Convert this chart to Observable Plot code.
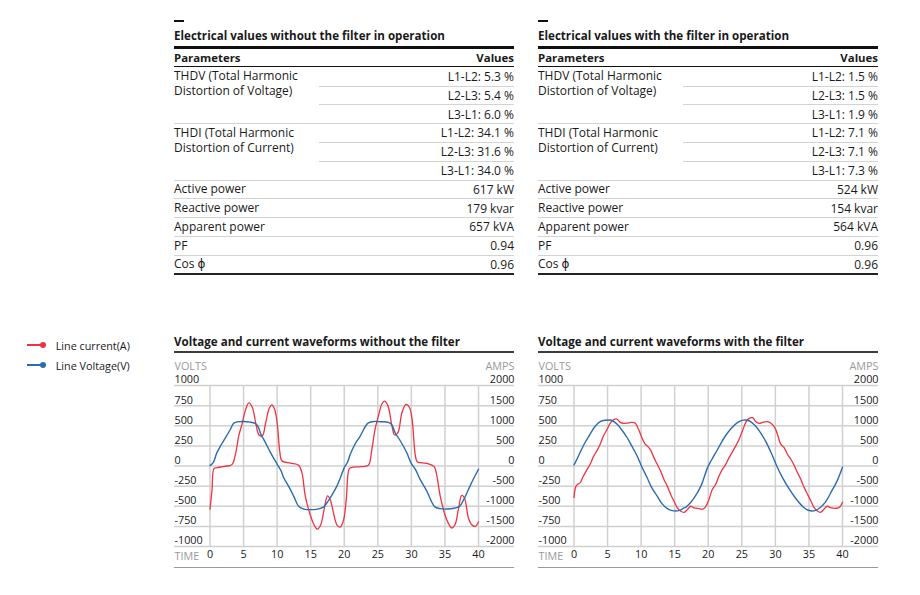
<!DOCTYPE html>
<html><head><meta charset="utf-8">
<script src="https://cdn.jsdelivr.net/npm/d3@7"></script>
<script src="https://cdn.jsdelivr.net/npm/@observablehq/plot@0.6"></script>
<style>
html,body{margin:0;padding:0;background:#fff;}
#page{position:relative;width:920px;height:595px;overflow:hidden;font-family:'Open Sans','DejaVu Sans',sans-serif;color:#1a1a1a;}
.t{position:absolute;white-space:pre;line-height:14px;}
.r{position:absolute;}
</style></head><body><div id="page"></div>
<script>
// ---------- table data ----------
const tableTitles = ["Electrical values without the filter in operation", "Electrical values with the filter in operation"];
const headers = ["Parameters", "Values"];
const phasePairs = ["L1-L2", "L2-L3", "L3-L1"];
const thdvLabel = ["THDV (Total Harmonic", "Distortion of Voltage)"];
const thdiLabel = ["THDI (Total Harmonic", "Distortion of Current)"];
const thdvWithout = [5.3, 5.4, 6.0];
const thdvWith = [1.5, 1.5, 1.9];
const thdiWithout = [34.1, 31.6, 34.0];
const thdiWith = [7.1, 7.1, 7.3];
const powerLabels = ["Active power", "Reactive power", "Apparent power", "PF", "Cos \u03D5"];
const powerWithout = ["617 kW", "179 kvar", "657 kVA", "0.94", "0.96"];
const powerWith = ["524 kW", "154 kvar", "564 kVA", "0.96", "0.96"];

// ---------- chart data ----------
const chartTitles = ["Voltage and current waveforms without the filter", "Voltage and current waveforms with the filter"];
const legendLabels = ["Line current(A)", "Line Voltage(V)"];
const voltTicks = [-1000, -750, -500, -250, 0, 250, 500, 750, 1000];
const ampTicks = [-2000, -1500, -1000, -500, 0, 500, 1000, 1500, 2000];
const timeTicks = [0, 5, 10, 15, 20, 25, 30, 35, 40];

// [time, volts]
const voltageWithout = [[0,5],[0.5,45],[1.0,160],[1.6,255],[2.3,350],[3.0,450],[3.5,528],[4.0,548],[5.0,553],[6.0,545],[6.7,530],[7.1,500],[7.6,390],[8.0,330],[9.0,170],[9.8,50],[10.2,-5],[10.6,-60],[11.0,-150],[11.7,-250],[12.5,-380],[13.2,-500],[14.0,-535],[15.0,-542],[16.0,-535],[16.9,-510],[17.4,-460],[18.2,-355],[18.9,-250],[19.5,-130],[20.0,-20],[20.5,50],[20.9,146],[21.6,270],[22.4,375],[23.2,500],[23.6,535],[24.4,553],[25.4,550],[26.6,542],[27.1,510],[27.6,410],[28.3,320],[29.3,167],[30.0,30],[30.6,-42],[31.3,-167],[32.3,-312],[33.5,-508],[34.3,-530],[35.3,-535],[36.5,-522],[37.2,-500],[37.8,-417],[38.5,-292],[39.2,-167],[40,-40]];
// [time, amps]
const currentWithout = [[0,-1070],[0.3,-600],[0.6,-60],[1.0,-45],[1.6,-25],[2.6,0],[3.3,40],[3.8,300],[4.3,760],[4.8,1060],[5.3,1400],[5.8,1570],[6.3,1460],[6.8,1080],[7.3,770],[7.8,750],[8.3,1080],[8.8,1420],[9.2,1520],[9.6,1420],[10.0,1080],[10.4,350],[10.7,130],[12.0,70],[13.2,20],[13.7,-170],[14.2,-750],[15.0,-1250],[15.5,-1460],[16.0,-1570],[16.5,-1460],[17.0,-1080],[17.5,-740],[17.9,-830],[18.4,-1170],[18.9,-1460],[19.4,-1520],[19.9,-1340],[20.3,-830],[20.7,-80],[21.0,-40],[22.4,-17],[23.6,20],[24.1,400],[24.6,920],[25.1,1250],[25.6,1540],[26.0,1610],[26.5,1500],[27.1,1000],[27.5,770],[28.0,830],[28.6,1330],[29.2,1530],[29.7,1460],[30.1,1170],[30.6,250],[30.9,100],[32.3,67],[33.4,-17],[33.8,-250],[34.3,-750],[35.0,-1210],[35.5,-1420],[36.0,-1540],[36.5,-1460],[37.0,-1080],[37.5,-730],[37.9,-790],[38.5,-1290],[39.0,-1460],[39.5,-1500],[40.0,-1390]];
const voltageWith = [[0,15],[0.3,60],[0.9,167],[1.65,292],[2.4,396],[3.1,487],[3.9,550],[4.6,568],[5.6,568],[6.4,521],[7.1,450],[7.9,354],[8.6,250],[9.4,125],[10.1,-10],[10.9,-146],[11.6,-271],[12.4,-375],[13.1,-467],[13.9,-529],[14.6,-554],[15.6,-554],[16.4,-521],[16.7,-510],[17.1,-479],[17.9,-396],[18.9,-250],[19.9,-20],[20.4,62],[21.4,208],[22.4,354],[23.4,467],[24.4,542],[25.2,570],[26.1,562],[26.9,508],[27.6,437],[28.6,300],[29.6,120],[30.2,0],[31.1,-150],[32.1,-290],[33.1,-410],[34.1,-505],[34.9,-550],[35.9,-554],[36.6,-521],[37.4,-455],[38.4,-310],[39.2,-185],[40,-15]];
const currentWith = [[0,-780],[0.25,-520],[0.5,-460],[0.9,-420],[1.4,-250],[1.9,-100],[2.4,42],[2.9,233],[3.4,375],[3.9,542],[4.4,750],[4.9,900],[5.4,1067],[5.9,1150],[6.4,1167],[6.9,1083],[7.4,1058],[7.9,1067],[8.6,1083],[9.1,1067],[9.6,917],[10.1,708],[10.6,542],[10.9,500],[11.4,400],[11.9,208],[12.4,42],[12.9,-125],[13.4,-333],[13.9,-500],[14.4,-708],[14.9,-875],[15.4,-1042],[15.9,-1125],[16.4,-1150],[16.9,-1083],[17.4,-1000],[17.9,-1042],[18.6,-1058],[19.1,-1075],[19.6,-1017],[20.1,-833],[20.6,-583],[21.1,-458],[21.6,-250],[22.1,-83],[22.6,42],[23.1,208],[23.6,350],[24.1,500],[24.6,667],[25.1,875],[25.6,1083],[26.1,1183],[26.6,1200],[27.1,1100],[27.6,1058],[28.1,1083],[28.8,1100],[29.3,1067],[29.9,958],[30.3,792],[30.8,542],[31.3,458],[31.8,292],[32.3,167],[32.8,17],[33.3,-167],[33.8,-333],[34.3,-542],[34.8,-708],[35.3,-875],[35.8,-1042],[36.3,-1125],[36.7,-1150],[37.2,-1083],[37.7,-1000],[38.3,-1042],[39.1,-1050],[39.6,-1017],[40,-900]];

const RED = "#ee3340", BLUE = "#2b6cb0";
const page = document.getElementById("page");

function box(x, y, w, h, bg) {
  const d = document.createElement("div");
  d.className = "r";
  Object.assign(d.style, {left: x + "px", top: y + "px", width: w + "px", height: h + "px", background: bg});
  page.appendChild(d); return d;
}
// yc = vertical centre of the FIRST line of text
function txt(s, x, yc, o = {}) {
  const d = document.createElement("div");
  d.className = "t";
  d.textContent = s;
  const lh = o.lh || 14;
  d.style.lineHeight = lh + "px";
  d.style.top = (yc - lh / 2 + 0.5) + "px";
  if (o.right) d.style.right = (920 - x) + "px"; else d.style.left = x + "px";
  d.style.fontSize = (o.size || 12) + "px";
  if (o.bold) d.style.fontWeight = "700";
  if (o.color) d.style.color = o.color;
  page.appendChild(d); return d;
}

function table(x0, title, thdv, thdi, power) {
  const W = 340, split = 145, top = 66.7, rh = 18.8;
  box(x0, 20, 10, 2, "#111");
  txt(title, x0, 35.5, {bold: true, size: 11.6});
  box(x0, 46, W, 2.6, "#111");
  txt(headers[0], x0, 57, {bold: true, size: 11.4});
  txt(headers[1], x0 + W, 57, {bold: true, size: 11.4, right: true});
  box(x0, 65.9, W, 1.4, "#111");
  const groups = [
    {label: thdvLabel, values: phasePairs.map((p, i) => `${p}: ${thdv[i].toFixed(1)} %`)},
    {label: thdiLabel, values: phasePairs.map((p, i) => `${p}: ${thdi[i].toFixed(1)} %`)},
    ...powerLabels.map((l, i) => ({label: [l], values: [power[i]]}))
  ];
  let r = 0;
  const total = groups.reduce((s, g) => s + g.values.length, 0);
  groups.forEach(g => {
    txt(g.label.join("\n"), x0, top + r * rh + 9.6, {lh: 14.7});
    g.values.forEach((v, j) => {
      txt(v, x0 + W, top + (r + j) * rh + 9.8, {right: true});
      const ys = top + (r + j + 1) * rh;
      if (r + j + 1 === total) box(x0, ys - 1, W, 2, "#222");
      else if (j < g.values.length - 1) box(x0 + split, ys, W - split, 1, "#d3d3d3");
      else box(x0, ys, W, 1, "#d3d3d3");
    });
    r += g.values.length;
  });
}

function chart(x0, title, voltage, current) {
  txt(title, x0, 341.5, {bold: true, size: 11.6});
  box(x0, 351.3, 340, 1.8, "#3c3c3c");
  const vMax = voltTicks[voltTicks.length - 1], aMax = ampTicks[ampTicks.length - 1];
  const fs = 10.8;
  const common = {fontSize: fs, lineAnchor: "middle"};
  const p = Plot.plot({
    width: 340, height: 216,
    marginLeft: 35.5, marginRight: 36, marginTop: 29, marginBottom: 26,
    x: {domain: [timeTicks[0], timeTicks[timeTicks.length - 1]], axis: null},
    y: {domain: [voltTicks[0], vMax], axis: null},
    style: {fontFamily: "'Open Sans', sans-serif", background: "transparent", overflow: "visible", color: "#1a1a1a"},
    marks: [
      Plot.ruleY(voltTicks, {y: d => d, stroke: "#d0d0d0", strokeWidth: 1.5, insetLeft: -35.5, insetRight: -36}),
      Plot.ruleX(timeTicks, {x: d => d, stroke: "#d0d0d0", strokeWidth: 1.5}),
      Plot.text(voltTicks, {...common, y: d => d, text: d => String(d), frameAnchor: "left", textAnchor: "start", dx: -35.5, dy: -5.5, fill: "#1a1a1a"}),
      Plot.text(voltTicks, {...common, y: d => d, text: (d, i) => String(ampTicks[i]), frameAnchor: "right", textAnchor: "end", dx: 36, dy: -5.5, fill: "#1a1a1a"}),
      Plot.text(timeTicks, {...common, x: d => d, text: d => String(d), frameAnchor: "bottom", dy: 8.5, fill: "#1a1a1a"}),
      Plot.text(["VOLTS"], {...common, text: d => d, frameAnchor: "top-left", textAnchor: "start", dx: -35.5, dy: -19.3, fill: "#9a9a9a"}),
      Plot.text(["AMPS"], {...common, text: d => d, frameAnchor: "top-right", textAnchor: "end", dx: 36, dy: -19.3, fill: "#9a9a9a"}),
      Plot.text(["TIME"], {...common, text: d => d, frameAnchor: "bottom-left", textAnchor: "start", dx: -35.5, dy: 9.7, fill: "#9a9a9a"}),
      Plot.line(current, {x: d => d[0], y: d => d[1] * vMax / aMax, stroke: RED, strokeWidth: 1.3, curve: "catmull-rom"}),
      Plot.line(voltage, {x: d => d[0], y: d => d[1], stroke: BLUE, strokeWidth: 1.4, curve: "catmull-rom"})
    ]
  });
  p.style.position = "absolute";
  p.style.left = x0 + "px";
  p.style.top = "356px";
  page.appendChild(p);
  box(x0, 566.7, 340, 1.6, "#9a9a9a");
}

function legend() {
  [RED, BLUE].forEach((c, i) => {
    const y = 345 + i * 20;
    box(27, y - 1, 16, 2, c);
    const dot = box(40, y - 3, 6, 6, c);
    dot.style.borderRadius = "50%";
    txt(legendLabels[i], 55.7, y, {size: 10.8});
  });
}

table(174, tableTitles[0], thdvWithout, thdiWithout, powerWithout);
table(538, tableTitles[1], thdvWith, thdiWith, powerWith);
legend();
chart(174, chartTitles[0], voltageWithout, currentWithout);
chart(538, chartTitles[1], voltageWith, currentWith);
</script></body></html>
